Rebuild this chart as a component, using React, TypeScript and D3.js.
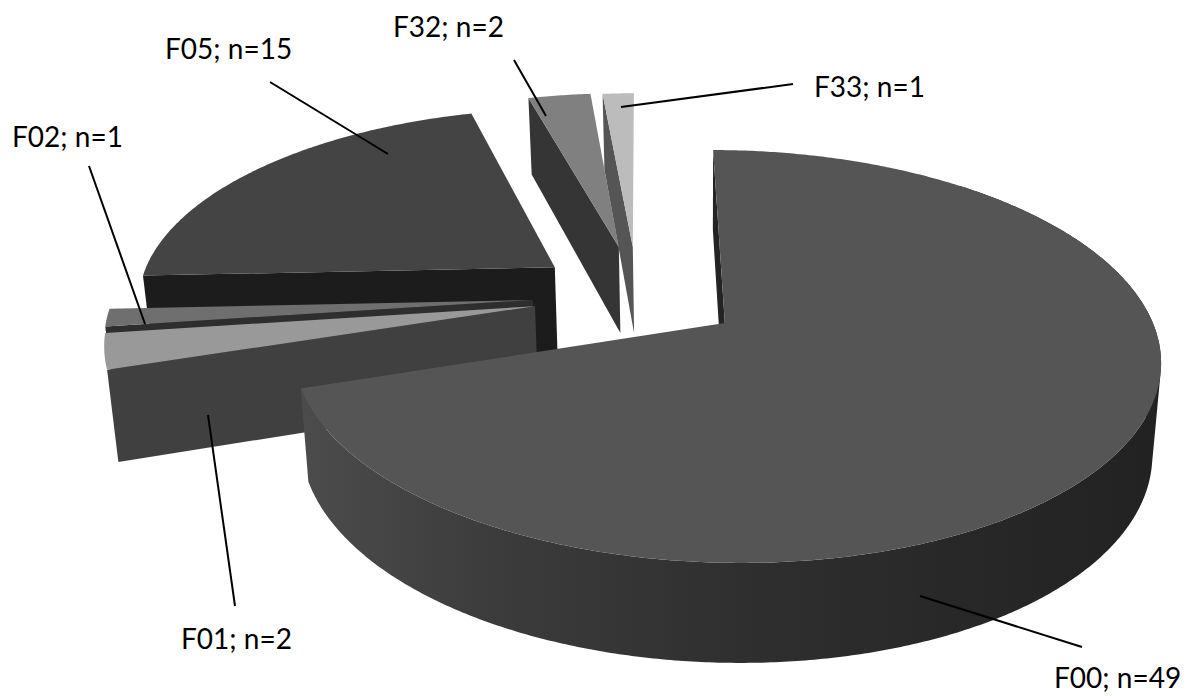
import React from "react";
import * as d3 from "d3";

// Diagnosis groups and their case counts
const categories = ["F00", "F01", "F02", "F05", "F32", "F33"];
const counts = [49, 2, 1, 15, 2, 1];

// How far each slice is pulled out of the pie, in disc units (right, towards viewer)
const offsetU = [0.002, -0.445, -0.4512, -0.4048, -0.2491, -0.2143];
const offsetV = [0, -0.085, -0.117, -0.29, -0.403, -0.403];

const topColors = ["#555555", "#999999", "#6f6f6f", "#444444", "#808080", "#bcbcbc"];
const wallColors = ["#242424", "#404040", "#2e2e2e", "#1c1c1c", "#353535", "#555555"];

// Rim shading of the large slice, by pie angle in degrees
const shadeAngles = [252, 210, 180, 150, 100];
const shadeGreys = ["#4c4c4c", "#3c3c3c", "#2f2f2f", "#272727", "#222222"];

// Label text anchors and leader lines, one per category
const labelX = [1054, 181, 12, 165, 393, 814];
const labelY = [688, 649, 147, 59, 37, 97];
const leaderFrom = [[920, 596], [208, 415], [145, 324], [388, 154], [546, 116], [621, 107]];
const leaderTo = [[1082, 647], [235, 606], [89, 166], [270, 82], [514, 60], [793, 84]];

const WIDTH = 1187;
const HEIGHT = 696;
const CX = 724;
const CY = 323;
const RX = 428;
const RY = 201;
const SKEW = 13.5;
const PERSPECTIVE = 0.1622;

type Pt = [number, number];

// Disc coordinates to screen, with perspective; `down` selects the underside
function project(u: number, v: number, down = false): Pt {
  const w = 1 - PERSPECTIVE * v;
  const x = CX + (RX * u + SKEW * v) / w;
  const y = CY + (RY * v) / w;
  if (!down) return [x, y];
  return [700 + (x - 700) * 0.981, y + 90 + 10 * v];
}

const rim = (theta: number, u0: number, v0: number, down = false): Pt =>
  project(u0 + Math.sin(theta), v0 - Math.cos(theta), down);

const toPath = d3.line<Pt>();

const arcs = d3
  .pie<number>()
  .sort(null)
  .startAngle(0)
  .endAngle(2 * Math.PI)(counts);

const rad = (deg: number) => (deg * Math.PI) / 180;

function topFace(i: number): string {
  const { startAngle, endAngle } = arcs[i];
  const u0 = offsetU[i];
  const v0 = offsetV[i];
  const n = Math.max(2, Math.ceil((endAngle - startAngle) / rad(0.5)));
  const pts: Pt[] = [project(u0, v0)];
  d3.range(n + 1).forEach((k) => {
    pts.push(rim(startAngle + ((endAngle - startAngle) * k) / n, u0, v0));
  });
  return toPath(pts) + "Z";
}

// The flat cut face running from the slice's tip out to the rim at `theta`
function cutFace(i: number, theta: number): string {
  const u0 = offsetU[i];
  const v0 = offsetV[i];
  const pts: Pt[] = [
    project(u0, v0),
    rim(theta, u0, v0),
    rim(theta, u0, v0, true),
    project(u0, v0, true),
  ];
  return toPath(pts) + "Z";
}

// Curved outer wall of the big slice: one compound path of small quads, all
// wound the same way so overlaps near the silhouette fill instead of cancelling
function outerWall(): string {
  const end = arcs[0].endAngle;
  const angles = d3.range(rad(40), end, rad(0.5)).concat(end);
  const u0 = offsetU[0];
  const v0 = offsetV[0];
  return d3
    .pairs(angles)
    .map(([a, b]) => {
      const quad: Pt[] = [rim(a, u0, v0), rim(b, u0, v0), rim(b, u0, v0, true), rim(a, u0, v0, true)];
      if (d3.polygonArea(quad) < 0) quad.reverse();
      return toPath(quad) + "Z";
    })
    .join("");
}

// Horizontal gradient whose stops sit under the rim angles they shade
const xMin = rim(rad(shadeAngles[0]), offsetU[0], offsetV[0])[0];
const xMax = rim(rad(shadeAngles[shadeAngles.length - 1]), offsetU[0], offsetV[0])[0];
const shadeStops = shadeAngles.map((deg, k) => ({
  offset: (rim(rad(deg), offsetU[0], offsetV[0])[0] - xMin) / (xMax - xMin),
  color: shadeGreys[k],
}));

function Slice({ i, cutAt }: { i: number; cutAt: number }) {
  return (
    <g>
      <path d={cutFace(i, cutAt)} fill={wallColors[i]} />
      <path d={topFace(i)} fill={topColors[i]} />
    </g>
  );
}

export default function App() {
  const drawOrder = [5, 4, 3, 2, 1];
  return (
    <svg
      width={WIDTH}
      height={HEIGHT}
      viewBox={`0 0 ${WIDTH} ${HEIGHT}`}
      style={{ position: "absolute", left: 0, top: 0, background: "#ffffff" }}
    >
      <defs>
        <linearGradient id="rimShade" gradientUnits="userSpaceOnUse" x1={xMin} x2={xMax} y1={0} y2={0}>
          {shadeStops.map((s) => (
            <stop key={s.offset} offset={s.offset} stopColor={s.color} />
          ))}
        </linearGradient>
      </defs>

      {drawOrder.map((i) => (
        <Slice key={categories[i]} i={i} cutAt={arcs[i].startAngle} />
      ))}

      <path d={cutFace(0, 0)} fill={wallColors[0]} />
      <path d={outerWall()} fill="url(#rimShade)" fillRule="nonzero" />
      <path d={topFace(0)} fill={topColors[0]} />

      {categories.map((c, i) => (
        <g key={c}>
          <line
            x1={leaderFrom[i][0]}
            y1={leaderFrom[i][1]}
            x2={leaderTo[i][0]}
            y2={leaderTo[i][1]}
            stroke="#000000"
            strokeWidth={2}
          />
          <text
            x={labelX[i]}
            y={labelY[i]}
            fontFamily="Lato, sans-serif"
            fontSize={28}
            fill="#000000"
          >
            {`${c}; n=${counts[i]}`}
          </text>
        </g>
      ))}
    </svg>
  );
}
